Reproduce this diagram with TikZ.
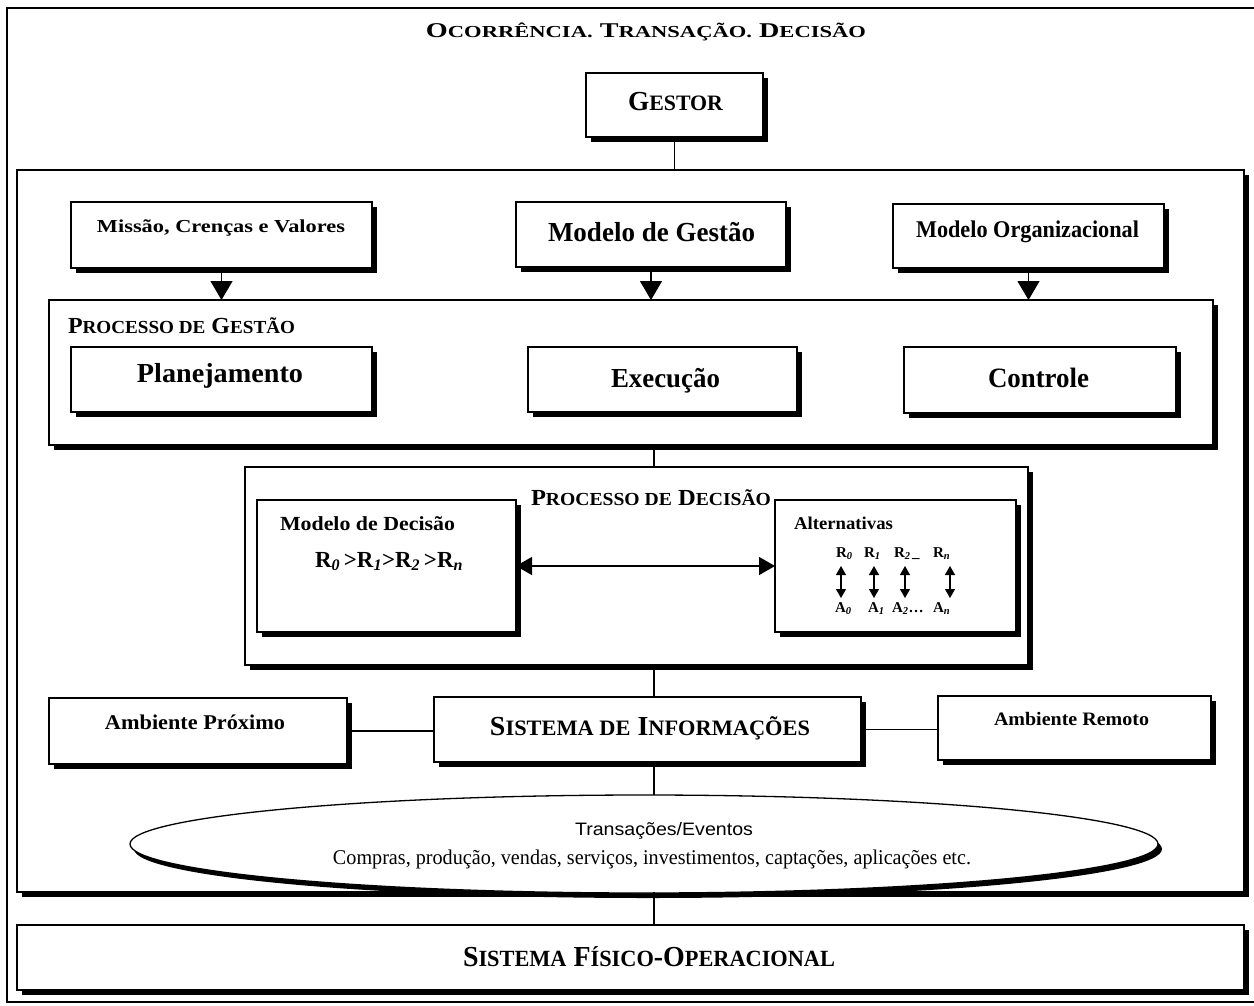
\documentclass[tikz,border=0pt]{standalone}
\usepackage{fontspec}
\usepackage{graphicx}
\setmainfont{Liberation Serif}
\newfontfamily\sansf{Liberation Sans}
\usetikzlibrary{arrows.meta,shapes.geometric,shadows,fit}

% font size helper
\newcommand\fs[1]{\fontsize{#1}{#1}\selectfont}
% set text to a given width, keeping its height
\newsavebox\fitbox
\newlength\fith
\newcommand\fitw[2]{\sbox\fitbox{#2}\setlength\fith{\ht\fitbox}\resizebox{#1}{\fith}{\usebox\fitbox}}
% hand-made small capitals
\makeatletter
\newcommand\lc[1]{{\fontsize{\the\dimexpr\f@size pt*4/5\relax}{0pt}\selectfont #1}}
\makeatother
\newcommand\sub[1]{\textsubscript{\itshape #1}}

\tikzset{
  box/.style={draw, line width=1.3pt, fill=white, rectangle, inner sep=0pt, outer sep=0pt,
    drop shadow={shadow xshift=4.5pt, shadow yshift=-4.5pt, fill=black, opacity=1}},
  frame/.style={draw, line width=1.3pt, fill=white, rectangle, inner sep=0pt, outer sep=0pt},
  lbl/.style={inner sep=0pt, outer sep=0pt, anchor=base, font=\bfseries},
  conn/.style={line width=1.2pt},
  arr/.style={line width=1.2pt, -{Triangle[width=22pt,length=19pt]}},
  darr/.style={line width=1.4pt, {Triangle[width=18pt,length=16pt]}-{Triangle[width=18pt,length=16pt]}},
  sarr/.style={line width=1.1pt, {Triangle[width=10pt,length=9pt]}-{Triangle[width=10pt,length=9pt]}},
}

\begin{document}
\begin{tikzpicture}[x=1pt,y=-1pt]
\useasboundingbox (0,0) rectangle (1254,1005);

% frames
\node[frame, fit={(7,8)(1262,1002)}] (outer) {};
\node[box, fit={(17,170)(1244,892)}] (inner) {};
\coordinate (spine) at (654,0);

% title and manager
\node[lbl] (tTitle) at (646,37) {\fs{21}\fitw{440pt}{O\lc{CORRÊNCIA.} T\lc{RANSAÇÃO.} D\lc{ECISÃO}}};
\node[box, fit={(586,73)(763,137)}] (gestor) {};
\node[lbl] (tGestor) at (675.5,110) {\fs{27.5}\fitw{95pt}{G\lc{ESTOR}}};

% top row
\node[box, fit={(71,202)(372,268)}] (missao) {};
\node[box, fit={(516,202)(786,267)}] (mgestao) {};
\node[box, fit={(893,204)(1164,268)}] (morg) {};
\node[lbl] (tMissao) at (221,232) {\fs{18.3}\fitw{248pt}{Missão, Crenças e Valores}};
\node[lbl] (tMGestao) at (651.5,241) {\fs{27.5}\fitw{207pt}{Modelo de Gestão}};
\node[lbl] (tMOrg) at (1027.5,237) {\fs{24}\fitw{223pt}{Modelo Organizacional}};

% management process
\node[box, fit={(49,300)(1213,445)}] (pgestao) {};
\node[lbl, anchor=base west] (tPG) at (68,333) {\fs{23}\fitw{227pt}{P\lc{ROCESSO DE} G\lc{ESTÃO}}};
\node[box, fit={(71,347)(372,412)}] (plan) {};
\node[box, fit={(528,347)(797,412)}] (exec) {};
\node[box, fit={(904,347)(1176,413)}] (ctrl) {};
\node[lbl] (tPlan) at (220,382) {\fs{27.5}\fitw{166pt}{Planejamento}};
\node[lbl] (tExec) at (665.5,387) {\fs{27.5}\fitw{109pt}{Execução}};
\node[lbl] (tCtrl) at (1038.5,387) {\fs{28}\fitw{101pt}{Controle}};

% decision process
\node[box, fit={(245,467)(1028,665)}] (pdecisao) {};
\node[box, fit={(257,500)(516,632)}] (mdec) {};
\node[box, fit={(775,500)(1016,632)}] (alt) {};
\node[lbl] (tPD) at (651,505) {\fs{23}\fitw{240pt}{P\lc{ROCESSO DE} D\lc{ECISÃO}}};
\node[lbl, anchor=base west] (tMD) at (280,530) {\fs{20}\fitw{175pt}{Modelo de Decisão}};
\node[lbl, anchor=base west] (tRel) at (315,567) {\fs{23}\fitw{148pt}{R\sub{0}\,>R\sub{1}>R\sub{2}\,>R\sub{n}}};
\node[lbl, anchor=base west] (tAlt) at (794,529) {\fs{18}\fitw{99pt}{Alternativas}};

\node[lbl, anchor=base west] (r0) at (836,557) {\fs{15}R\sub{0}};
\node[lbl, anchor=base west] (r1) at (864,557) {\fs{15}R\sub{1}};
\node[lbl, anchor=base west] (r2) at (894,557) {\fs{15}R\sub{2}};
\node[lbl, anchor=base west] (rdots) at (912,557) {\fs{15}\_};
\node[lbl, anchor=base west] (rn) at (933,557) {\fs{15}R\sub{n}};
\node[lbl, anchor=base west] (a0) at (835,612) {\fs{15}A\sub{0}};
\node[lbl, anchor=base west] (a1) at (868,612) {\fs{15}A\sub{1}};
\node[lbl, anchor=base west] (a2) at (892,612) {\fs{15}A\sub{2}\dots};
\node[lbl, anchor=base west] (an) at (933,612) {\fs{15}A\sub{n}};
\foreach \i/\xx in {0/841,1/874,2/905,n/950}{
  \coordinate (u\i) at (\xx,566);
  \coordinate (d\i) at (\xx,598);
  \draw[sarr] (u\i) -- (d\i);
}

% information system row
\node[box, fit={(49,698)(347,764)}] (ambprox) {};
\node[box, fit={(434,697)(861,762)}] (sinf) {};
\node[box, fit={(938,696)(1211,760)}] (ambrem) {};
\node[lbl] (tAP) at (195,729) {\fs{21}\fitw{180pt}{Ambiente Próximo}};
\node[lbl] (tSI) at (650,735) {\fs{27.5}\fitw{320pt}{S\lc{ISTEMA DE} I\lc{NFORMAÇÕES}}};
\node[lbl] (tAR) at (1071.5,725) {\fs{19}\fitw{155pt}{Ambiente Remoto}};

% transactions
\node[ellipse, draw, line width=1.3pt, fill=white, inner sep=0pt, outer sep=0pt,
  minimum width=1028pt, minimum height=98pt,
  drop shadow={shadow xshift=4pt, shadow yshift=-5pt, fill=black, opacity=1}] (ell) at (644,844) {};
\node[lbl, font=\sansf] (tTE) at (664,835) {\fs{18}\fitw{178pt}{Transações/Eventos}};
\node[lbl, font=\mdseries] (tCP) at (652,864) {\fs{21}\fitw{638pt}{Compras, produção, vendas, serviços, investimentos, captações, aplicações etc.}};

% physical-operational system
\node[box, fit={(17,925)(1244,990)}] (sfo) {};
\node[lbl] (tSFO) at (649,966) {\fs{29}\fitw{372pt}{S\lc{ISTEMA} F\lc{ÍSICO}-O\lc{PERACIONAL}}};

% connectors
\draw[conn] (gestor) -- (gestor |- inner.north);
\draw[arr] (missao) -- (missao |- pgestao.north);
\draw[arr] (mgestao) -- (mgestao |- pgestao.north);
\draw[arr] (morg) -- (morg |- pgestao.north);
\draw[conn] (pgestao.south -| spine) -- (pdecisao.north -| spine);
\draw[darr] (mdec.east) -- (alt.west);
\draw[conn] (pdecisao.south -| spine) -- (sinf.north -| spine);
\draw[conn] (ambprox.east) -- (ambprox.east -| sinf.west);
\draw[conn] (sinf.east) -- (sinf.east -| ambrem.west);
\draw[conn] (sinf.south -| spine) -- (ell.north -| spine);
\draw[conn] (inner.south -| spine) -- (sfo.north -| spine);
\end{tikzpicture}
\end{document}
